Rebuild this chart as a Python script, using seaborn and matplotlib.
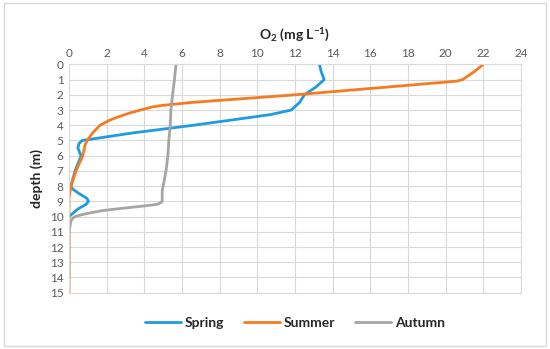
import matplotlib
matplotlib.use("Agg")
import matplotlib.pyplot as plt
import seaborn as sns
import pandas as pd
from matplotlib.patches import Rectangle

# O2 profiles (depth in m, O2 in mg/L)
spring_depth = [0, 0.5, 1, 1.5, 2, 2.5, 3, 3.3, 4, 4.5, 5, 5.2, 5.5, 6, 7, 8, 8.2, 8.5, 8.8, 9, 9.2, 9.5, 10]
spring_o2 = [13.3, 13.4, 13.55, 13.1, 12.5, 12.25, 11.8, 10.7, 6.6, 3.4, 0.7, 0.53, 0.47, 0.64, 0.32, 0.1, 0.2, 0.55, 0.95, 1.03, 0.9, 0.47, 0.0]

summer_depth = [0, 0.5, 1, 1.1, 1.5, 2, 2.5, 2.7, 2.8, 3, 3.2, 3.5, 3.7, 4, 4.5, 5, 5.3, 6, 7, 8, 8.8, 9, 12, 15]
summer_o2 = [22.0, 21.5, 20.9, 20.6, 16.8, 12.0, 6.5, 4.9, 4.4, 3.8, 3.2, 2.5, 2.1, 1.65, 1.25, 0.97, 0.85, 0.73, 0.37, 0.1, 0.0, 0.0, 0.0, 0.0]

autumn_depth = [0, 1, 2, 3, 4, 5, 6, 7, 8, 8.3, 9, 9.1, 9.2, 9.3, 9.5, 9.6, 9.8, 9.9, 10, 10.1, 10.3, 11, 14]
autumn_o2 = [5.68, 5.6, 5.5, 5.41, 5.38, 5.3, 5.25, 5.15, 5.0, 4.95, 4.95, 4.85, 4.65, 4.0, 2.5, 1.8, 0.94, 0.6, 0.32, 0.2, 0.1, 0.0, 0.0]

seasons = ["Spring", "Summer", "Autumn"]
colors = ["#1F9BDE", "#F47B20", "#A5A5A5"]

frames = []
for name, d, v in zip(seasons, [spring_depth, summer_depth, autumn_depth],
                      [spring_o2, summer_o2, autumn_o2]):
    frames.append(pd.DataFrame({"season": name, "depth": d, "o2": v}))
df = pd.concat(frames, ignore_index=True)

sns.set_style("white")
plt.rcParams['font.family'] = ['Lato', 'DejaVu Sans']
plt.rcParams['mathtext.fontset'] = 'custom'
plt.rcParams['mathtext.rm'] = 'Lato:bold'
plt.rcParams['mathtext.bf'] = 'Lato:bold'
plt.rcParams['mathtext.default'] = 'bf'

fig = plt.figure(figsize=(5.5, 3.49), dpi=100)
ax = fig.add_axes([0.1255, 0.1613, 0.8215, 0.6542])

sns.lineplot(data=df, x="o2", y="depth", hue="season", hue_order=seasons,
             palette=colors, sort=False, orient="y", linewidth=2, ax=ax)

ax.set_xlim(0, 24)
ax.set_ylim(15, 0)
ax.set_xticks(range(0, 25, 2))
ax.set_yticks(range(0, 16))
ax.xaxis.tick_top()
ax.xaxis.set_label_position("top")
ax.tick_params(axis="both", length=0, labelsize=8.5, labelcolor="#595959", pad=4)
ax.grid(True, color="#D9D9D9", linewidth=0.8)
for s in ax.spines.values():
    s.set_color("#D9D9D9")
    s.set_linewidth(0.8)

ax.set_xlabel("O$_2$ (mg L$^{-1}$)", fontsize=10, fontweight="bold", labelpad=6)
ax.set_ylabel("depth (m)", fontsize=10, fontweight="bold", labelpad=5)

leg = ax.legend(loc="upper center", bbox_to_anchor=(0.5, -0.05), ncol=3,
                frameon=False, fontsize=10, handlelength=2.6, columnspacing=1.4,
                handletextpad=0.3)
for t in leg.get_texts():
    t.set_fontweight("bold")

fig.patches.append(Rectangle((0.008, 0.008), 0.984, 0.984, transform=fig.transFigure,
                             fill=False, edgecolor="#D9D9D9", linewidth=1))

fig.savefig("out.png", dpi=100)
